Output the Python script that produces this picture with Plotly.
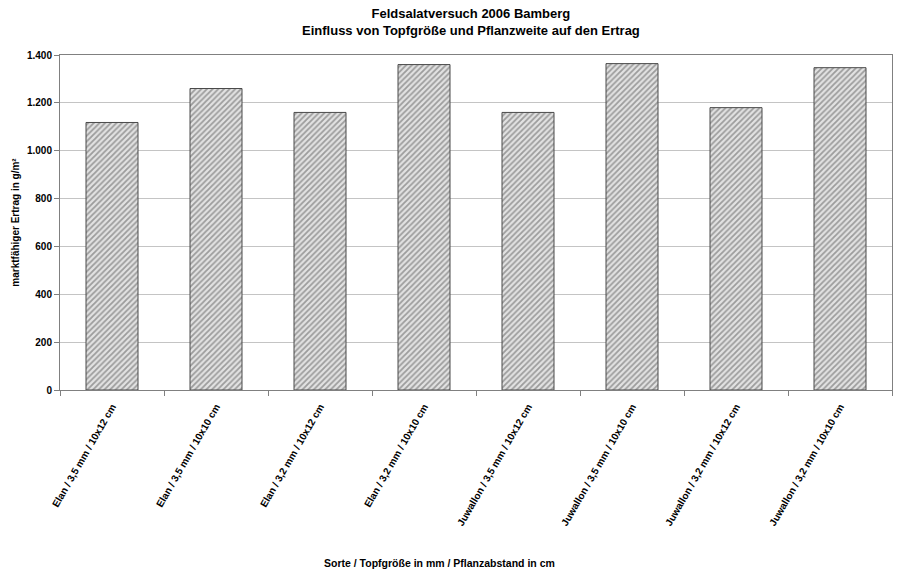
import plotly.graph_objects as go

# Feldsalat yield trial, Bamberg 2006
categories = [
    "Elan / 3,5 mm / 10x12 cm",
    "Elan / 3,5 mm / 10x10 cm",
    "Elan / 3,2 mm / 10x12 cm",
    "Elan / 3,2 mm / 10x10 cm",
    "Juwallon / 3,5 mm / 10x12 cm",
    "Juwallon / 3,5 mm / 10x10 cm",
    "Juwallon / 3,2 mm / 10x12 cm",
    "Juwallon / 3,2 mm / 10x10 cm",
]
ertrag = [1118, 1260, 1160, 1360, 1160, 1364, 1180, 1347]
y_ticks = [0, 200, 400, 600, 800, 1000, 1200, 1400]

FONT = "Liberation Sans, Arial, sans-serif"

fig = go.Figure(
    go.Bar(
        x=categories,
        y=ertrag,
        width=0.5,
        marker=dict(
            color="#d0d0d0",
            line=dict(color="#4a4a4a", width=1),
            pattern=dict(shape="/", fgcolor="#555555", bgcolor="#e2e2e2",
                         size=4, solidity=0.45),
        ),
        showlegend=False,
    )
)

fig.update_layout(
    width=897,
    height=571,
    paper_bgcolor="white",
    plot_bgcolor="white",
    margin=dict(l=60, r=5, t=55, b=181),
    separators=",.",
    font=dict(family=FONT, color="#000000"),
    title=dict(
        text="<b>Feldsalatversuch 2006 Bamberg<br>Einfluss von Topfgröße und Pflanzweite auf den Ertrag</b>",
        x=0.525, xanchor="center", yref="container", y=0.968, yanchor="top",
        font=dict(size=13, family=FONT),
    ),
    annotations=[
        dict(
            text="<b>Sorte / Topfgröße in mm / Pflanzabstand in cm</b>",
            xref="paper", yref="paper", x=0.456, y=-0.515,
            xanchor="center", yanchor="middle", showarrow=False,
            font=dict(size=10.5, family=FONT),
        )
    ],
)

fig.update_xaxes(
    tickangle=-60,
    tickfont=dict(size=10, family=FONT, weight="bold"),
    ticklabelstandoff=6,
    ticks="outside", ticklen=5, tickcolor="#808080",
    tickson="boundaries",
    showline=True, linecolor="#808080", linewidth=1, mirror=True,
    showgrid=False,
)

fig.update_yaxes(
    range=[0, 1400],
    tickvals=y_ticks,
    tickformat=",d",
    tickfont=dict(size=10, family=FONT, weight="bold"),
    ticks="outside", ticklen=5, tickcolor="#808080",
    showline=True, linecolor="#808080", linewidth=1, mirror=True,
    showgrid=True, gridcolor="#c4c4c4", gridwidth=1,
    zeroline=False,
    title=dict(text="<b>marktfähiger Ertrag in g/m²</b>",
               font=dict(size=10, family=FONT), standoff=5),
)

fig.write_html("out.html")
